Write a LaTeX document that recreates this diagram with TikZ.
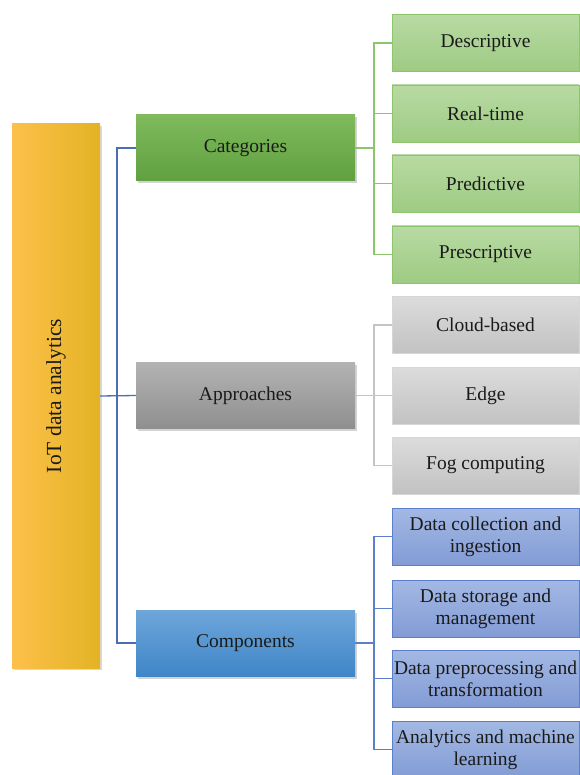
\documentclass[tikz,border=0pt]{standalone}
\usepackage{fontspec}
\setmainfont{Liberation Serif}
\usetikzlibrary{shadows}

\definecolor{txt}{HTML}{1A1A1A}
\definecolor{rootA}{HTML}{FDC04A}
\definecolor{rootB}{HTML}{FEC60E}
\definecolor{rootC}{HTML}{E3B324}
\definecolor{catTop}{HTML}{80BA5C}
\definecolor{catBot}{HTML}{5FA040}
\definecolor{appTop}{HTML}{B3B3B3}
\definecolor{appBot}{HTML}{8F8F8F}
\definecolor{cmpTop}{HTML}{6EA6DA}
\definecolor{cmpBot}{HTML}{3F86C8}
\definecolor{gLeafTop}{HTML}{B8DAA3}
\definecolor{gLeafBot}{HTML}{9ECB83}
\definecolor{gLeafLine}{HTML}{8DC56D}
\definecolor{sLeafTop}{HTML}{DCDCDC}
\definecolor{sLeafBot}{HTML}{C2C2C2}
\definecolor{sLeafLine}{HTML}{C4C4C4}
\definecolor{bLeafTop}{HTML}{A3B8E3}
\definecolor{bLeafBot}{HTML}{829CD5}
\definecolor{bLeafLine}{HTML}{5B7FCA}
\definecolor{rootLine}{HTML}{4A6DB4}

\tikzset{
  box/.style={rectangle, inner sep=2pt, align=center, text=txt,
    font=\fontsize{19.5}{22}\selectfont},
  mainbox/.style={box, minimum width=219pt, minimum height=66pt,
    drop shadow={opacity=0.35, shadow xshift=1.5pt, shadow yshift=-2.5pt}},
  leafbox/.style={box, minimum width=187pt, minimum height=57pt,
    line width=0.9pt},
  gleaf/.style={leafbox, draw=gLeafLine, top color=gLeafTop, bottom color=gLeafBot},
  sleaf/.style={leafbox, draw=sLeafLine!70!white, top color=sLeafTop, bottom color=sLeafBot},
  bleaf/.style={leafbox, draw=bLeafLine, top color=bLeafTop, bottom color=bLeafBot},
  gline/.style={draw=gLeafLine, line width=1.1pt},
  sline/.style={draw=sLeafLine, line width=1.1pt},
  bline/.style={draw=bLeafLine, line width=1.3pt},
  rline/.style={draw=rootLine, line width=1.3pt},
}

\begin{document}
\begin{tikzpicture}[x=1pt, y=-1pt]
\useasboundingbox (0,0) rectangle (579,775);

% root column
\node[rectangle, minimum width=88pt, minimum height=544pt, inner sep=0pt,
      left color=rootA, middle color=rootB, right color=rootC,
      drop shadow={opacity=0.3, shadow xshift=1.5pt, shadow yshift=-2pt}]
      (root) at (56,396) {};
\node[rotate=90, text=txt, font=\fontsize{21.5}{24}\selectfont] (rootlabel) at (root.center) {IoT data analytics};

% second level
\node[mainbox, top color=catTop, bottom color=catBot] (cat) at (245.5,148) {Categories};
\node[mainbox, top color=appTop, bottom color=appBot] (app) at (245.5,395.5) {Approaches};
\node[mainbox, top color=cmpTop, bottom color=cmpBot] (cmp) at (245.5,643) {Components};

% categories
\node[gleaf] (c1) at (485.5,43) {Descriptive};
\node[gleaf] (c2) at (485.5,113.5) {Real-time};
\node[gleaf] (c3) at (485.5,183.5) {Predictive};
\node[gleaf] (c4) at (485.5,254.5) {Prescriptive};

% approaches
\node[sleaf] (a1) at (485.5,325) {Cloud-based};
\node[sleaf] (a2) at (485.5,395.5) {Edge};
\node[sleaf] (a3) at (485.5,465.5) {Fog computing};

% components
\node[bleaf] (m1) at (485.5,536.5) {Data collection and\\ingestion};
\node[bleaf] (m2) at (485.5,608.5) {Data storage and\\management};
\node[bleaf] (m3) at (485.5,678.5) {Data preprocessing and\\transformation};
\node[bleaf] (m4) at (485.5,749.5) {Analytics and machine\\learning};

% spines
\coordinate (mainx) at (117,0);
\coordinate (leafx) at (374,0);

% root to second level
\draw[rline] (root.east) -- (app.west);
\draw[rline] (cat.west) -- (cat.west -| mainx) -- (cmp.west -| mainx) -- (cmp.west);

% categories tree
\draw[gline] (cat.east) -- (cat.east -| leafx);
\draw[gline] (c1.west) -- (c1.west -| leafx) -- (c4.west -| leafx) -- (c4.west);
\draw[gline] (c2.west) -- (c2.west -| leafx);
\draw[gline] (c3.west) -- (c3.west -| leafx);

% approaches tree
\draw[sline] (app.east) -- (a2.west);
\draw[sline] (a1.west) -- (a1.west -| leafx) -- (a3.west -| leafx) -- (a3.west);

% components tree
\draw[bline] (cmp.east) -- (cmp.east -| leafx);
\draw[bline] (m1.west) -- (m1.west -| leafx) -- (m4.west -| leafx) -- (m4.west);
\draw[bline] (m2.west) -- (m2.west -| leafx);
\draw[bline] (m3.west) -- (m3.west -| leafx);
\end{tikzpicture}
\end{document}
